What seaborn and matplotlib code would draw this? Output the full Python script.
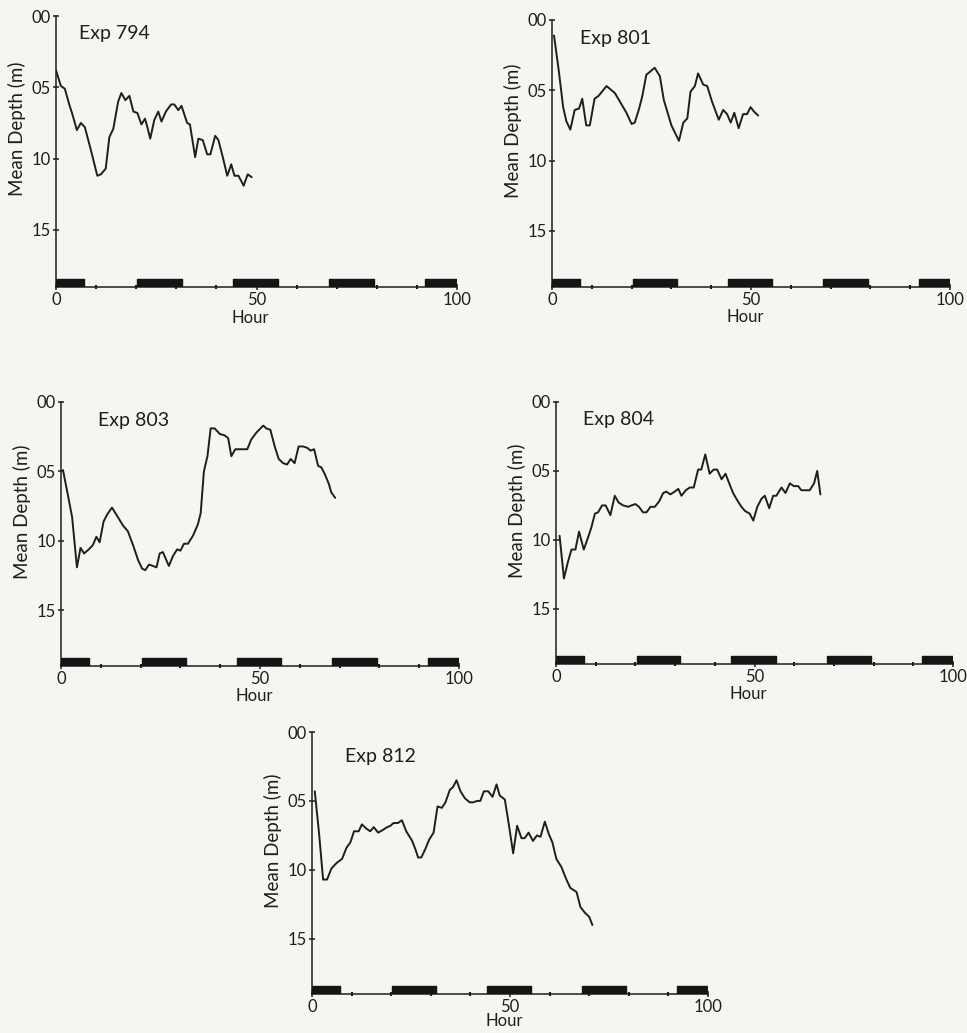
import matplotlib
matplotlib.use("Agg")
import matplotlib.pyplot as plt
import seaborn as sns
from matplotlib.ticker import MultipleLocator

# ---- Mean depth (m) against hour for each experiment ----
exp794_hour = [0.0, 1.2, 2.2, 3.3, 4.1, 5.2, 6.2, 7.2, 8.7, 10.3, 11.2, 12.4, 13.3, 14.3,
               15.5, 16.3, 17.3, 18.3, 19.3, 20.3, 21.3, 22.2, 22.7, 23.5, 24.5, 25.5,
               26.3, 27.4, 28.7, 29.5, 30.5, 31.3, 32.7, 33.4, 34.7, 35.5, 36.6, 37.7,
               38.5, 39.7, 40.5, 41.6, 42.7, 43.7, 44.5, 45.5, 46.8, 47.8, 48.8]
exp794_depth = [0.38, 0.49, 0.51, 0.62, 0.69, 0.80, 0.75, 0.78, 0.94, 1.12, 1.11, 1.07, 0.85, 0.79,
                0.60, 0.54, 0.59, 0.56, 0.67, 0.68, 0.76, 0.72, 0.77, 0.86, 0.73, 0.67,
                0.74, 0.67, 0.62, 0.62, 0.66, 0.63, 0.75, 0.76, 0.99, 0.86, 0.87, 0.97,
                0.97, 0.84, 0.87, 0.99, 1.12, 1.04, 1.12, 1.12, 1.19, 1.11, 1.13]

exp801_hour = [0.5, 1.7, 2.8, 3.6, 4.6, 5.7, 6.8, 7.6, 8.6, 9.5, 10.7, 11.7, 13.7, 15.8,
               18.7, 20.0, 20.8, 21.9, 22.7, 23.7, 25.8, 27.1, 28.1, 30.0, 31.9, 33.0,
               34.0, 34.8, 35.9, 36.7, 38.0, 39.0, 40.2, 41.9, 43.0, 44.0, 44.9, 45.8,
               46.9, 48.0, 49.0, 49.9, 50.7, 51.8]
exp801_depth = [0.11, 0.36, 0.62, 0.72, 0.78, 0.64, 0.63, 0.56, 0.75, 0.75, 0.56, 0.54, 0.47, 0.52,
                0.66, 0.74, 0.73, 0.63, 0.54, 0.39, 0.34, 0.40, 0.57, 0.75, 0.86, 0.73,
                0.70, 0.51, 0.47, 0.38, 0.46, 0.47, 0.58, 0.71, 0.64, 0.67, 0.73, 0.66,
                0.77, 0.67, 0.67, 0.62, 0.65, 0.68]

exp803_hour = [0.5, 1.6, 2.8, 3.4, 4.0, 4.9, 5.8, 7.0, 8.0, 8.9, 9.7, 10.7, 11.6, 12.8, 13.9,
               15.6, 16.8, 18.1, 19.4, 20.4, 21.2, 22.1, 23.1, 24.0, 24.8, 25.6, 26.2,
               27.1, 28.1, 29.2, 30.0, 30.9, 31.9, 33.2, 34.4, 35.1, 35.9, 36.8, 37.6,
               38.6, 39.9, 41.1, 42.0, 42.8, 43.8, 45.1, 46.8, 47.8, 49.1, 50.8, 51.6,
               52.6, 53.7, 54.7, 55.8, 56.8, 57.7, 58.7, 59.7, 60.8, 61.9, 62.7, 63.6,
               64.6, 65.4, 66.3, 67.3, 67.9, 68.9]
exp803_depth = [0.49, 0.65, 0.83, 1.01, 1.19, 1.05, 1.09, 1.06, 1.03, 0.97, 1.01, 0.86, 0.81, 0.76, 0.81,
                0.89, 0.93, 1.03, 1.14, 1.20, 1.21, 1.17, 1.18, 1.19, 1.09, 1.08, 1.12,
                1.18, 1.11, 1.06, 1.07, 1.02, 1.02, 0.96, 0.88, 0.80, 0.50, 0.39, 0.19,
                0.19, 0.23, 0.24, 0.26, 0.39, 0.34, 0.34, 0.34, 0.27, 0.22, 0.17, 0.19,
                0.20, 0.32, 0.41, 0.44, 0.45, 0.41, 0.44, 0.32, 0.32, 0.33, 0.35, 0.34,
                0.46, 0.47, 0.52, 0.59, 0.65, 0.69]

exp804_hour = [0.9, 2.0, 3.0, 3.9, 4.9, 5.8, 7.0, 8.1, 8.9, 9.8, 10.6, 11.6, 12.5, 13.7, 14.8,
               15.8, 16.9, 18.2, 19.0, 20.0, 20.9, 21.9, 22.8, 23.8, 24.9, 26.0, 27.0,
               27.8, 28.8, 29.9, 30.8, 31.6, 32.7, 33.7, 34.7, 35.8, 36.6, 37.6, 38.7,
               39.7, 40.6, 41.7, 42.7, 43.5, 44.6, 45.6, 46.7, 47.6, 48.8, 49.7, 50.7,
               51.8, 52.6, 53.7, 54.7, 55.5, 56.8, 57.8, 58.9, 59.9, 61.0, 61.8, 63.1,
               63.9, 65.0, 65.8, 66.6]
exp804_depth = [0.97, 1.28, 1.16, 1.07, 1.07, 0.94, 1.07, 0.98, 0.91, 0.81, 0.80, 0.75, 0.75, 0.82, 0.68,
                0.73, 0.75, 0.76, 0.75, 0.74, 0.76, 0.80, 0.80, 0.76, 0.76, 0.72, 0.66,
                0.65, 0.67, 0.65, 0.63, 0.68, 0.64, 0.62, 0.62, 0.49, 0.49, 0.38, 0.52,
                0.49, 0.49, 0.56, 0.52, 0.58, 0.66, 0.71, 0.76, 0.79, 0.81, 0.86, 0.76,
                0.70, 0.68, 0.77, 0.68, 0.68, 0.62, 0.66, 0.59, 0.61, 0.61, 0.64, 0.64,
                0.64, 0.59, 0.50, 0.67]

exp812_hour = [0.7, 1.8, 2.8, 3.8, 4.9, 6.2, 7.6, 8.7, 9.7, 10.6, 11.8, 12.6, 13.7, 14.7,
               15.6, 16.7, 17.9, 19.0, 19.8, 20.6, 21.7, 22.7, 23.8, 25.3, 26.1, 26.8,
               27.6, 28.6, 29.6, 30.7, 31.7, 32.8, 33.7, 34.8, 35.6, 36.5, 37.5, 38.6,
               39.8, 40.7, 41.7, 42.5, 43.4, 44.5, 45.6, 46.6, 47.4, 48.7, 49.7, 50.8,
               51.8, 52.9, 53.7, 54.7, 55.8, 56.8, 57.7, 58.8, 59.8, 60.7, 61.7, 63.0,
               64.1, 65.2, 66.8, 67.8, 68.9, 70.0, 70.8]
exp812_depth = [0.43, 0.74, 1.07, 1.07, 0.99, 0.95, 0.92, 0.84, 0.80, 0.72, 0.72, 0.67, 0.70, 0.72,
                0.69, 0.73, 0.71, 0.69, 0.68, 0.66, 0.66, 0.64, 0.72, 0.79, 0.85, 0.91,
                0.91, 0.85, 0.78, 0.73, 0.54, 0.55, 0.51, 0.42, 0.40, 0.35, 0.43, 0.48,
                0.51, 0.51, 0.50, 0.50, 0.43, 0.43, 0.47, 0.38, 0.46, 0.49, 0.67, 0.88,
                0.68, 0.77, 0.77, 0.73, 0.79, 0.75, 0.76, 0.65, 0.74, 0.80, 0.92, 0.98,
                1.06, 1.13, 1.16, 1.27, 1.31, 1.34, 1.40]

# Dark periods shown as black bars along the time axis
night_start = [0.0, 20.3, 44.2, 68.2, 92.1]
night_end = [7.1, 31.3, 55.3, 79.3, 100.0]

experiments = ["Exp 794", "Exp 801", "Exp 803", "Exp 804", "Exp 812"]
series = [(exp794_hour, exp794_depth), (exp801_hour, exp801_depth),
          (exp803_hour, exp803_depth), (exp804_hour, exp804_depth),
          (exp812_hour, exp812_depth)]

depth_ticks = [0.0, 0.5, 1.0, 1.5]
depth_labels = ["00", "05", "10", "15"]
hour_ticks = [0, 50, 100]
hour_labels = ["0", "50", "100"]

sns.set_theme(style="white")
plt.rcParams["font.family"] = ["Lato", "DejaVu Sans"]
INK = "#1e1e1e"
BG = "#f6f5f2"

W, H = 967, 1033
fig = plt.figure(figsize=(W / 100, H / 100), dpi=100, facecolor=BG)

# panel frames in pixels: left, right, top, bottom
frames = [(56, 457, 16, 287), (552, 950, 20, 287), (61, 459, 402, 666),
          (556, 953, 402, 664), (312, 708, 732, 994)]
title_pos = [(5.8, 0.12), (7.0, 0.13), (9.3, 0.13), (6.9, 0.13), (8.3, 0.18)]
hour_label_y = [-0.084, -0.084, -0.084, -0.084, -0.072]

for (l, r, t, b), name, (hrs, dep), (tx, ty), hy in zip(frames, experiments, series,
                                                         title_pos, hour_label_y):
    ax = fig.add_axes([l / W, (H - b) / H, (r - l) / W, (b - t) / H])
    ax.set_facecolor("none")
    sns.lineplot(x=hrs, y=dep, ax=ax, color=INK, lw=1.4, sort=False, estimator=None)
    ax.broken_barh([(s, e - s) for s, e in zip(night_start, night_end)], (1.843, 0.057),
                   facecolor="#151515", edgecolor="#151515", zorder=3)
    ax.set_xlim(0, 100)
    ax.set_ylim(1.9, 0)
    ax.set_yticks(depth_ticks)
    ax.set_yticklabels(depth_labels)
    ax.set_xticks(hour_ticks)
    ax.set_xticklabels(hour_labels)
    ax.xaxis.set_minor_locator(MultipleLocator(10))
    for side in ["top", "right"]:
        ax.spines[side].set_visible(False)
    for side in ["left", "bottom"]:
        ax.spines[side].set_color(INK)
        ax.spines[side].set_linewidth(1.1)
    ax.tick_params(axis="both", which="major", direction="inout", length=4, width=1.1,
                   color=INK, labelcolor=INK, labelsize=12, pad=1.5,
                   left=True, bottom=True)
    ax.tick_params(axis="x", which="minor", direction="inout", length=3, width=1.5,
                   color=INK, bottom=True)
    ax.set_xlabel("Hour", fontsize=12, color=INK)
    ax.set_ylabel("Mean Depth (m)", fontsize=13.5, color=INK)
    ax.xaxis.set_label_coords(0.485, hy)
    ax.yaxis.set_label_coords(-0.076, 0.585)
    ax.text(tx, ty, name, ha="left", va="center", fontsize=14, color=INK)

fig.savefig("out.png", dpi=100, facecolor=BG)
